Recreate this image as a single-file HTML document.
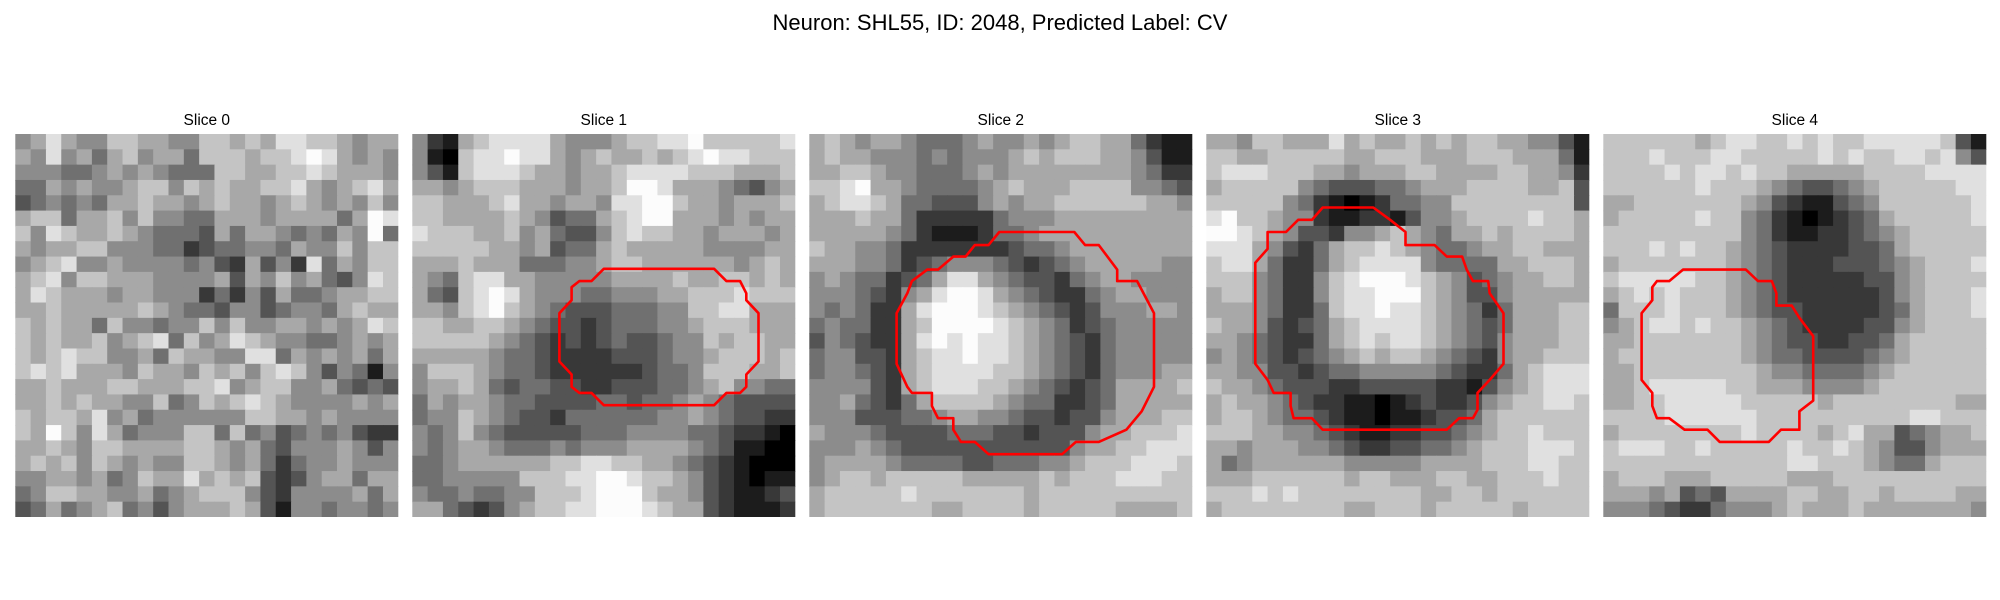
<!DOCTYPE html>
<html><head><meta charset="utf-8"><style>
html,body{margin:0;padding:0;background:#fff;}
svg{display:block;font-family:"Liberation Sans","DejaVu Sans",sans-serif;}
</style></head><body>
<svg id="fig" width="2000" height="600" viewBox="0 0 2000 600">
<text x="1000" y="30" text-anchor="middle" font-size="22" fill="#000">Neuron: SHL55, ID: 2048, Predicted Label: CV</text>
</svg>
<script>
const sliceTitles = ["Slice 0","Slice 1","Slice 2","Slice 3","Slice 4"];
const slice0 = ["5686557766557767688776566","6585646756647776778986565","5554456565444776677876665","4465655677576766778656786","3454546676656766567656575","6774667575544666566664698","7587667654443646654546594","6566775554423445546557577","5678556555545326352846577","6785776665555636575643587","6876665665552425364456677","6676666676544355345546766","7676647554557575566565687","7676675678475687655445656","7678775564766558846565646","7878666576657675787535415","6676667766677856775564343","6676766557457678765555656","7677685645555557766565555","7697586455577474534545322","6676577666677656435556535","6767576565577656424556555","5566564576686767323566466","4577665564567775325555646","3464567453566676315545545"];
const slice1 = ["5216788886555677889777778","5107889886567667678988777","5317888766566788887776667","6656777666566799866654356","7766678665665889976656667","7766667653446789966656566","8777667564335787766566656","7777766563446766666555566","6667666444556776666665676","6547886655555666676677676","6437898655544555667778777","6657897654333444557788666","7766776543323444556777666","7777765432323433455767766","6666654432222333455677767","5777654432222223445777667","5667643443322333445675544","4656654433334434456543333","4557654332444444556543322","5457543333344455554432210","5456654445455566665431100","4456666667788776654321000","4455555777889987765321011","5445445577789997665321123","6643235677889998766321112"];
const slice2 = ["6765665444565565677664211","6766555454555676777665311","6677655444565666666665422","7789665444456766677775543","6788764433356566777777665","6667664222224555666666666","6666654211124456666666666","7665542222222344566666666","6665542345554323456666655","5654423468865433245665555","5554325689986543224566555","5454226899987654323555665","4544226799998765423455555","3543226898988765432455555","4553326788988765432455555","4554326788887765432455566","5555326788877654323466667","5564324677776544223466666","5553334456655433233566677","6555433334443323335667778","5556543333333333356677888","5666654444334445567778887","5677677777666667677788877","6777778777777767777777777","6777777766777767777766667"];
const slice3 = ["6657766686766767677665531","7766777776677766677766641","7888777665666776666776652","6777775433344566677776673","7777754210124455777777773","8977655211221355677778776","9987653325567654667677776","8886532467787654456677666","7886422467888854444667776","7775422578999876534566776","6775422578899976533566666","6665422478898876542466677","7665323467888876543466677","6654322467878876543566677","5654323456767765432566777","6655332344555554322467888","7665433322333332213567888","6766543221101232235677887","6776544321101123346777777","7776655432112233456778777","6656665543223344567778887","6456666665555566667778877","6667777776776667766777877","7778787777777766776777777","6777777776677767777767777"];
const slice4 = ["7777776788778787788888731","7778777887777787877887853","7777878878776666677778888","7777778777654334567777788","6677777776532113457777778","6777778775421012346777778","7777777775421122345677777","7778787765432222334677777","6777777765432223334567778","7888887765432222233567777","6787877765432222223567778","4777877765433222223467778","5678878776543222233567777","6677777776543322334677777","6777777776544333345677777","6677777777655444456777777","6678888877666555567777777","6677888887777767777777766","7777888888777777777788777","6777777778777767866345667","7888778777778778765335666","7777777777778877765446777","6777666777776667777777777","6665634366667766776777766","5554322455567666766666665"];
// contour vertices in grid-cell units (x col, y row)
const contour1 = [[12.5,8.8],[19.7,8.8],[20.5,9.6],[21.4,9.6],[21.8,10.4],[21.8,10.85],[22.6,11.7],[22.6,14.85],[21.8,15.7],[21.8,16.5],[21.4,16.9],[20.5,16.9],[19.7,17.7],[12.5,17.7],[11.7,16.9],[10.9,16.9],[10.4,16.5],[10.4,15.7],[9.6,14.85],[9.6,11.7],[10.4,10.85],[10.4,10.0],[10.9,9.6],[11.7,9.6]];
const contour2 = [[12.4,6.4],[17.3,6.4],[18,7.25],[18.9,7.25],[20.1,8.85],[20.1,9.6],[21.4,9.6],[22.5,11.7],[22.5,16.5],[21.7,18.1],[20.7,19.3],[18.9,20.1],[17.4,20.1],[16.5,20.9],[11.7,20.9],[10.8,20.1],[9.9,20.1],[9.4,19.3],[9.4,18.55],[8.4,18.55],[8,17.75],[8,16.9],[6.7,16.9],[6.4,16.5],[5.7,15],[5.7,11.7],[6.4,10.4],[6.7,9.6],[7.7,8.85],[8.4,8.85],[9.4,8],[10.2,8],[10.8,7.25],[11.7,7.25]];
const contour3 = [[7.6,4.8],[10.9,4.8],[12,5.6],[13,6.4],[13,7.25],[14.9,7.25],[15.7,8],[16.7,8],[17,8.85],[17.4,9.6],[18.4,9.6],[18.5,10.4],[19.4,11.7],[19.4,15],[18.5,16.05],[17.7,16.9],[17.7,18],[17.4,18.55],[16.5,18.55],[15.7,19.3],[7.6,19.3],[6.9,18.55],[5.7,18.55],[5.5,17.75],[5.5,16.9],[4.4,16.9],[4,16.05],[3.2,15],[3.2,8.4],[4,7.5],[4,6.4],[5.2,6.4],[6,5.6],[6.9,5.6]];
const contour4 = [[5.2,8.85],[9.3,8.85],[10.1,9.6],[11,9.6],[11.3,10.4],[11.3,11.2],[12.3,11.2],[12.8,12],[13.7,13.2],[13.7,17.4],[12.8,18.1],[12.8,19.3],[11.6,19.3],[10.8,20.1],[7.6,20.1],[6.8,19.3],[5.3,19.3],[4.3,18.55],[3.5,18.55],[3.2,17.75],[3.2,16.9],[2.5,16.05],[2.5,11.7],[3.2,10.85],[3.2,10],[3.5,9.6],[4.3,9.6]];

const slices = [slice0, slice1, slice2, slice3, slice4];
const contours = [null, contour1, contour2, contour3, contour4];

const NS = "http://www.w3.org/2000/svg";
const svg = document.getElementById("fig");
const PANEL_X0 = 15.3, PANEL_STEP = 397, PANEL_W = 383, PANEL_Y0 = 134, PANEL_H = 383;
function cellX(p, c, n){ return PANEL_X0 + p*PANEL_STEP + c*PANEL_W/n; }
function cellY(r, n){ return PANEL_Y0 + r*PANEL_H/n; }
function gray(d){ const v = Math.min(252, Math.round(d*28)); return "rgb("+v+","+v+","+v+")"; }

slices.forEach((grid, p) => {
  const g = document.createElementNS(NS, "g");
  
  
  svg.appendChild(g);
  const n = grid.length;
  const cw = PANEL_W / n, ch = PANEL_H / n;
  const t = document.createElementNS(NS, "text");
  
  
  t.setAttribute("x", cellX(p, 0, n) + PANEL_W/2);
  t.setAttribute("y", 125);
  t.setAttribute("text-anchor", "middle");
  t.setAttribute("font-size", "15.5");
  t.textContent = sliceTitles[p];
  g.appendChild(t);
  grid.forEach((row, r) => {
    for (let c = 0; c < row.length; c++) {
      const rect = document.createElementNS(NS, "rect");
      
      
      rect.setAttribute("x", cellX(p, c, n));
      rect.setAttribute("y", cellY(r, n));
      rect.setAttribute("width", c === n-1 ? cw : cw + 0.6);
      rect.setAttribute("height", r === n-1 ? ch : ch + 0.6);
      rect.setAttribute("fill", gray(+row[c]));
      g.appendChild(rect);
    }
  });
  const pts = contours[p];
  if (pts) {
    const poly = document.createElementNS(NS, "polygon");
    
    
    poly.setAttribute("points", pts.map(q => cellX(p, q[0], n).toFixed(1) + "," + cellY(q[1], n).toFixed(1)).join(" "));
    poly.setAttribute("fill", "none");
    poly.setAttribute("stroke", "#ff0000");
    poly.setAttribute("stroke-width", "2.6");
    poly.setAttribute("stroke-linejoin", "round");
    g.appendChild(poly);
  }
});
</script>
</body></html>
